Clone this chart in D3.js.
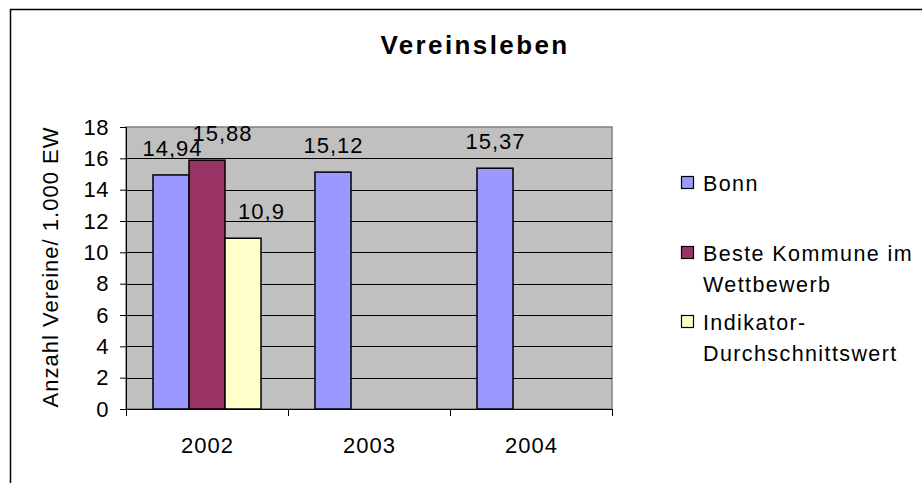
<!DOCTYPE html>
<html>
<head>
<meta charset="utf-8">
<script src="https://cdn.jsdelivr.net/npm/d3@7"></script>
<style>
  body { margin: 0; background: #fff; }
  text { font-family: "Liberation Sans", Arial, sans-serif; fill: #000; }
</style>
</head>
<body>
<div id="chart-area"></div>
<script>
const years = ["2002", "2003", "2004"]
const seriesNames = ["Bonn", "Beste Kommune im Wettbewerb", "Indikator-Durchschnittswert"]
const bonn = [14.94, 15.12, 15.37]
const beste = [15.88, null, null]
const indikator = [10.9, null, null]
const yTicks = [0, 2, 4, 6, 8, 10, 12, 14, 16, 18]
const legendLines = [["Bonn"], ["Beste Kommune im", "Wettbewerb"], ["Indikator-", "Durchschnittswert"]]

const COLORS = ["#9999FF", "#993366", "#FFFFCC"]
const PLOT = { LEFT: 126, RIGHT: 612, TOP: 127, BOTTOM: 409 }
const LS = 1 // excel-ish wide letter spacing

const svg = d3.select("#chart-area").append("svg")
    .attr("width", 922)
    .attr("height", 483)

// outer chart frame
svg.append("rect")
    .attr("x", 10.5).attr("y", 9.5)
    .attr("width", 940).attr("height", 500)
    .attr("fill", "#fff")
    .attr("stroke", "#000")
    .attr("stroke-width", 1.5)

svg.append("text")
    .attr("x", 474 + 1)
    .attr("y", 54)
    .attr("text-anchor", "middle")
    .attr("font-size", "26px")
    .attr("font-weight", "bold")
    .attr("letter-spacing", "2.4px")
    .text("Vereinsleben")

// y axis label
svg.append("text")
    .attr("transform", "translate(58, 267) rotate(-90)")
    .attr("text-anchor", "middle")
    .attr("font-size", "22px")
    .attr("letter-spacing", LS + "px")
    .text("Anzahl Vereine/ 1.000 EW")

const x0 = d3.scaleBand()
    .domain(years)
    .range([PLOT.LEFT, PLOT.RIGHT])
    .paddingInner(1/3)
    .paddingOuter(1/6)

const x1 = d3.scaleBand()
    .domain(seriesNames)
    .range([0, x0.bandwidth()])

const y = d3.scaleLinear()
    .domain([0, 18])
    .range([PLOT.BOTTOM, PLOT.TOP])

// plot area background
svg.append("rect")
    .attr("x", PLOT.LEFT).attr("y", PLOT.TOP)
    .attr("width", PLOT.RIGHT - PLOT.LEFT)
    .attr("height", PLOT.BOTTOM - PLOT.TOP)
    .attr("fill", "#C0C0C0")
    .attr("stroke", "#808080")
    .attr("stroke-width", 1.5)

// gridlines
svg.append("g")
    .selectAll("line")
    .data(yTicks.slice(1, -1))
    .enter().append("line")
        .attr("x1", PLOT.LEFT).attr("x2", PLOT.RIGHT)
        .attr("y1", d => Math.round(y(d)) + 0.5)
        .attr("y2", d => Math.round(y(d)) + 0.5)
        .attr("stroke", "#000")

// y axis
const yAxisCall = d3.axisLeft(y)
    .tickValues(yTicks)
    .tickSize(6)
    .tickPadding(10)
const yAxis = svg.append("g")
    .attr("transform", `translate(${PLOT.LEFT}, 0)`)
    .call(yAxisCall)
yAxis.selectAll("text")
    .attr("font-size", "22px")
    .attr("font-family", null)
    .attr("letter-spacing", "0.5px")
    .attr("dx", "-1px")
yAxis.selectAll("path, line").attr("stroke", "#000")

// x axis (ticks at category boundaries)
const xAxis = svg.append("g")
    .attr("transform", `translate(0, ${PLOT.BOTTOM})`)
xAxis.append("line")
    .attr("x1", PLOT.LEFT).attr("x2", PLOT.RIGHT)
    .attr("y1", 0.5).attr("y2", 0.5)
    .attr("stroke", "#000")
const step = x0.step()
xAxis.selectAll(".tick-b")
    .data(d3.range(years.length + 1))
    .enter().append("line")
        .attr("x1", i => PLOT.LEFT + i * step + 0.5)
        .attr("x2", i => PLOT.LEFT + i * step + 0.5)
        .attr("y1", 0).attr("y2", 7)
        .attr("stroke", "#000")
xAxis.selectAll("text")
    .data(years)
    .enter().append("text")
        .attr("x", d => x0(d) + x0.bandwidth() / 2 + LS / 2)
        .attr("y", 44)
        .attr("text-anchor", "middle")
        .attr("font-size", "22px")
        .attr("letter-spacing", LS + "px")
        .text(d => d)

// bars
const rows = years.map((yr, i) => ({
    year: yr,
    values: [bonn[i], beste[i], indikator[i]].map((v, j) => ({ name: seriesNames[j], value: v, idx: j }))
}))

const groups = svg.append("g").selectAll("g")
    .data(rows)
    .enter().append("g")
        .attr("transform", d => `translate(${x0(d.year)}, 0)`)

groups.selectAll("rect")
    .data(d => d.values.filter(v => v.value != null))
    .enter().append("rect")
        .attr("x", d => x1(d.name))
        .attr("y", d => y(d.value))
        .attr("width", x1.bandwidth())
        .attr("height", d => PLOT.BOTTOM - y(d.value))
        .attr("fill", d => COLORS[d.idx])
        .attr("stroke", "#000")
        .attr("stroke-width", 1.5)

// data labels; in the crowded group excel pushes them apart a bit
const crowdNudge = [1, 15, 18]
groups.selectAll(".lbl")
    .data(d => {
        const vals = d.values.filter(v => v.value != null)
        return vals.map(v => ({ ...v, nudge: vals.length > 1 ? crowdNudge[v.idx] : 0 }))
    })
    .enter().append("text")
        .attr("x", d => x1(d.name) + x1.bandwidth() / 2 + d.nudge + LS / 2)
        .attr("y", d => y(d.value) - 19)
        .attr("text-anchor", "middle")
        .attr("font-size", "22px")
        .attr("letter-spacing", LS + "px")
        .text(d => String(d.value).replace(".", ","))

// legend
const legend = svg.append("g")
    .attr("transform", "translate(681, 0)")
const legendY = [183, 253, 322]
legendLines.forEach((lines, i) => {
    legend.append("rect")
        .attr("x", 0.5).attr("y", legendY[i] - 6.5)
        .attr("width", 12).attr("height", 12)
        .attr("fill", COLORS[i])
        .attr("stroke", "#000")
        .attr("stroke-width", 1.2)
    lines.forEach((t, k) => {
        legend.append("text")
            .attr("x", 22)
            .attr("y", legendY[i] + 8 + k * 31)
            .attr("font-size", "21.5px")
            .attr("letter-spacing", "1.4px")
            .text(t)
    })
})
</script>
</body>
</html>
